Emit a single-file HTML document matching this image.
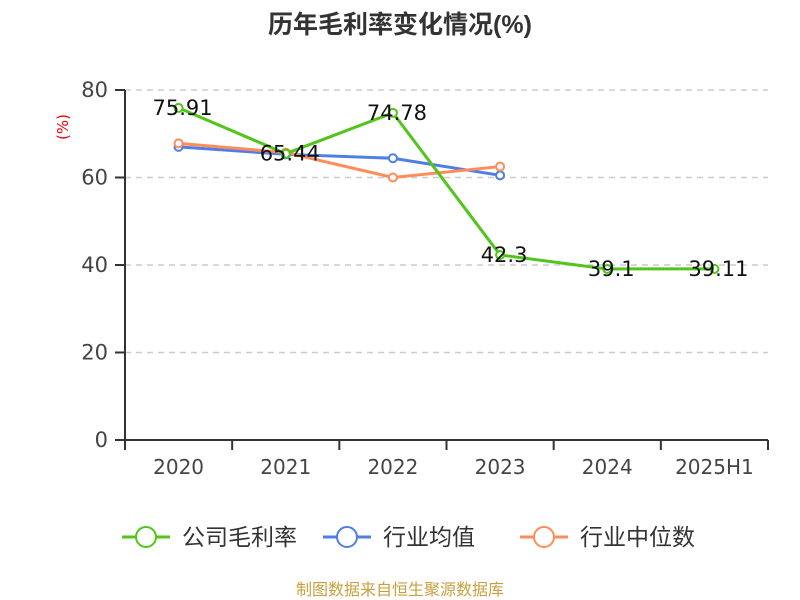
<!DOCTYPE html>
<html><head><meta charset="utf-8"><style>
body{margin:0;background:#fff;}
svg{display:block;font-family:"DejaVu Sans","Noto Sans CJK SC",sans-serif;}
</style></head><body>
<svg id="chart" width="800" height="600">
<text x="400" y="33" text-anchor="middle" font-size="25" font-weight="bold" fill="#333" font-family="'Liberation Sans','Noto Sans CJK SC',sans-serif">历年毛利率变化情况(%)</text>
<text transform="translate(68,127) rotate(-90)" text-anchor="middle" font-size="15" fill="#e00">(%)</text>
<g id="grid"></g><g id="axes"></g><g id="series"></g><g id="labels"></g>
<g id="legend"></g>
<text x="400" y="595" text-anchor="middle" font-size="16" fill="#c8a040">制图数据来自恒生聚源数据库</text>
</svg>
<script>
const categories=["2020","2021","2022","2023","2024","2025H1"];
const companyValues=[75.91,65.44,74.78,42.3,39.1,39.11];
const avgValues=[67.0,65.3,64.4,60.5];
const medianValues=[67.8,65.7,60.0,62.5];
const yTicks=[0,20,40,60,80];
const seriesNames=["公司毛利率","行业均值","行业中位数"];
const colors=["#52c41a","#4e7ee6","#ff8c5a"];
const NS="http://www.w3.org/2000/svg";
const L=125,R=768,T=90,B=440,yMax=80;
const band=(R-L)/categories.length;
const x=i=>L+band*(i+0.5);
const y=v=>B-(v/yMax)*(B-T);
function mk(tag,attrs,parent,text){const e=document.createElementNS(NS,tag);for(const k in attrs)e.setAttribute(k,attrs[k]);if(text!==undefined)e.textContent=text;document.getElementById(parent).appendChild(e);return e;}
yTicks.forEach(t=>{
 if(t>0){const g=mk('line',{x1:L,x2:R,y1:y(t),y2:y(t),stroke:'#ccc','stroke-dasharray':'6,5','stroke-width':1.5},'grid');
 
 }
 const tk=mk('line',{x1:L-10,x2:L,y1:y(t),y2:y(t),stroke:'#333','stroke-width':2},'axes');
 
 
 const lb=mk('text',{x:L-17,y:y(t)+7,'text-anchor':'end','font-size':21,fill:'#444'},'axes',t);
 
 
});
let ax=mk('line',{x1:L,x2:L,y1:T,y2:B,stroke:'#333','stroke-width':2},'axes');


ax=mk('line',{x1:L,x2:R,y1:B,y2:B,stroke:'#333','stroke-width':2},'axes');


for(let i=0;i<=categories.length;i++){const tk=mk('line',{x1:L+band*i,x2:L+band*i,y1:B,y2:B+10,stroke:'#333','stroke-width':2},'axes');
 
 }
categories.forEach((c,i)=>{const t=mk('text',{x:x(i),y:474,'text-anchor':'middle','font-size':20,fill:'#444'},'axes',c);
 
 });
function series(vals,color,name){
 const p=mk('polyline',{points:vals.map((v,i)=>x(i)+','+y(v)).join(' '),fill:'none',stroke:color,'stroke-width':3},'series');
 
 
 vals.forEach((v,i)=>{const c=mk('circle',{cx:x(i),cy:y(v),r:4,fill:'#fff',stroke:color,'stroke-width':2},'series');
  
  });
}
series(avgValues,colors[1],'industry-average');
series(medianValues,colors[2],'industry-median');
series(companyValues,colors[0],'company-gross-margin');
companyValues.forEach((v,i)=>{const t=mk('text',{x:x(i)+4,y:y(v)+7,'text-anchor':'middle','font-size':21,fill:'#111'},'labels',String(v));
 
 });
const lx=[122,323,520];
seriesNames.forEach((n,i)=>{
 const g=mk('g',{},'legend');
 
 
 const a=(tag,at,tx)=>{const e=document.createElementNS(NS,tag);for(const k in at)e.setAttribute(k,at[k]);if(tx!==undefined)e.textContent=tx;g.appendChild(e);return e;};
 a('line',{x1:lx[i],x2:lx[i]+48,y1:537,y2:537,stroke:colors[i],'stroke-width':3});
 a('circle',{cx:lx[i]+24,cy:537,r:10,fill:'#fff',stroke:colors[i],'stroke-width':2});
 a('text',{x:lx[i]+60,y:545,'font-size':23,fill:'#333','font-family':"'Noto Sans CJK SC',sans-serif"},n);
});
</script>
</body></html>
